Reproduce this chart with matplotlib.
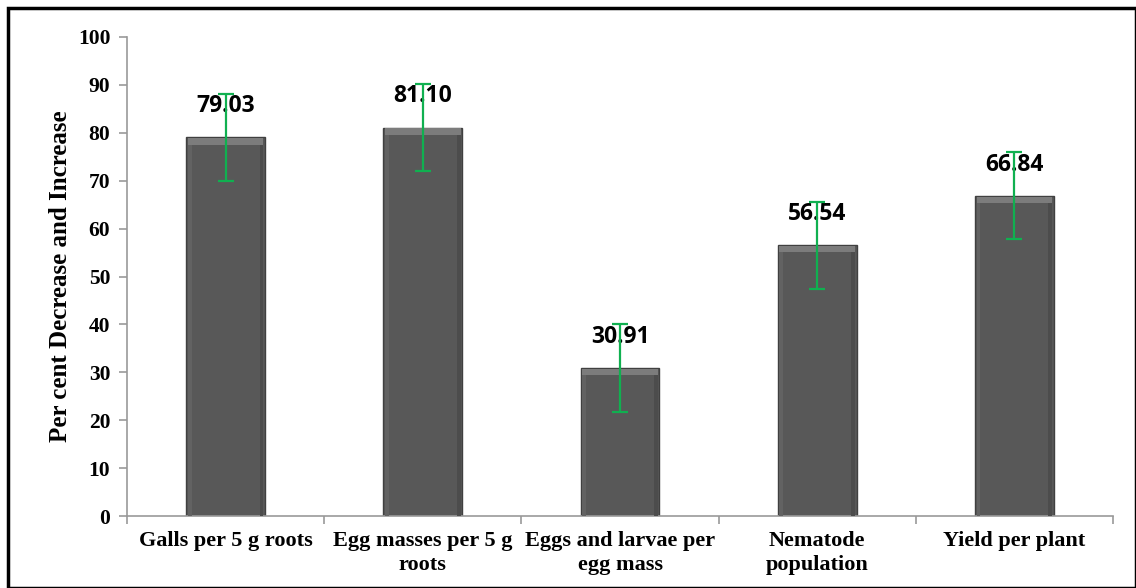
import matplotlib
matplotlib.use("Agg")
import matplotlib.pyplot as plt
from matplotlib.patches import Rectangle
import numpy as np

categories = ["Galls per 5 g roots", "Egg masses per 5 g\nroots", "Eggs and larvae per\negg mass",
              "Nematode\npopulation", "Yield per plant"]
values = [79.03, 81.10, 30.91, 56.54, 66.84]
errors = [9.1, 9.1, 9.1, 9.1, 9.1]
labels = ["79.03", "81.10", "30.91", "56.54", "66.84"]
yticks = [0, 10, 20, 30, 40, 50, 60, 70, 80, 90, 100]

SERIF = "Liberation Serif"

fig = plt.figure(figsize=(11.36, 5.88), dpi=100)
ax = fig.add_axes([127/1136, 72/588, (1113-127)/1136, (516-37)/588])

x = np.arange(len(values))
bars = ax.bar(x, values, width=0.4, color="#585858", edgecolor="#404040", linewidth=1.0, zorder=2)
# bevel highlight on top of each bar
for b in bars:
    x0, w, h = b.get_x(), b.get_width(), b.get_height()
    ax.add_patch(Rectangle((x0 + 0.008, h - 1.5), w - 0.016, 1.3, color="#7c7c7c", zorder=3, linewidth=0))
    ax.add_patch(Rectangle((x0 + 0.008, 0), 0.02, h - 1.5, color="#626262", zorder=3, linewidth=0))
    ax.add_patch(Rectangle((x0 + w - 0.028, 0), 0.02, h - 1.5, color="#4c4c4c", zorder=3, linewidth=0))

ax.errorbar(x, values, yerr=errors, fmt="none", ecolor="#10b050", elinewidth=1.6, capsize=6, capthick=1.6, zorder=5)

for xi, v, lab in zip(x, values, labels):
    ax.text(xi, v + 6.5, lab, ha="center", va="center", fontsize=16.5, fontweight="bold",
            family="Open Sans", color="black", zorder=4)

ax.set_xlim(-0.5, len(values) - 0.5)
ax.set_ylim(0, 100)
ax.set_yticks(yticks)
ax.set_yticklabels([str(t) for t in yticks], fontsize=15.5, fontweight="bold", family=SERIF)
ax.set_xticks(np.arange(len(values) + 1) - 0.5, minor=False)
ax.set_xticklabels([])
ax.set_xticks(x, minor=True)
ax.set_xticklabels(categories, minor=True, fontsize=16, fontweight="bold", family=SERIF, linespacing=1.25)
ax.tick_params(axis="x", which="minor", length=0, pad=11)
ax.tick_params(axis="x", which="major", length=6, color="#999999", width=1.2)
ax.tick_params(axis="y", length=6, color="#999999", width=1.2, pad=6)

for s in ["top", "right"]:
    ax.spines[s].set_visible(False)
for s in ["left", "bottom"]:
    ax.spines[s].set_color("#999999")
    ax.spines[s].set_linewidth(1.2)

ax.set_ylabel("Per cent Decrease and Increase", fontsize=18, fontweight="bold", family=SERIF, labelpad=4)

fig.patches.append(Rectangle((8/1136, 0.5/588), (1135.5-8)/1136, (580-0.5)/588, transform=fig.transFigure,
                             fill=False, edgecolor="black", linewidth=2.5))

fig.savefig("out.png", dpi=100)
